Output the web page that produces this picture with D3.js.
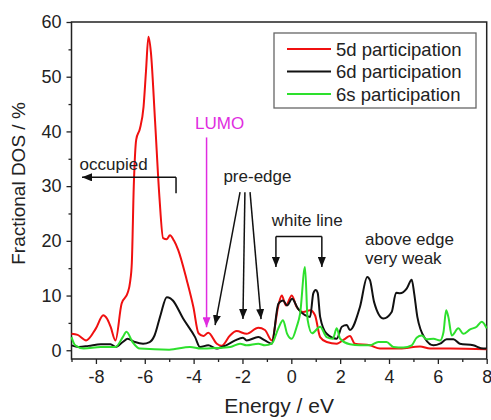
<!DOCTYPE html>
<html>
<head>
<meta charset="utf-8">
<script src="https://cdnjs.cloudflare.com/ajax/libs/d3/7.8.5/d3.min.js"></script>
<style>
  body { margin: 0; background: #fff; }
  svg { display: block; font-family: "Liberation Sans", Arial, sans-serif; }
</style>
</head>
<body>
<script>
// 5d participation (red)
const energy5d = [-9, -8.75, -8.4, -8.0, -7.7, -7.55, -7.4, -7.2, -6.95, -6.7, -6.6, -6.53, -6.45, -6.35, -6.2, -6.05, -5.95, -5.85, -5.75, -5.58, -5.4, -5.25, -5.1, -4.97, -4.8, -4.63, -4.28, -4.01, -3.8, -3.6, -3.4, -3.05, -2.85, -2.51, -2.24, -1.83, -1.35, -1.08, -0.8, -0.53, -0.39, -0.22, 0.02, 0.22, 0.49, 0.77, 0.97, 1.18, 1.45, 1.86, 2.2, 2.4, 2.6, 3.22, 3.63, 4.45, 5.27, 5.68, 6.5, 8];
const dos5d = [3.0, 2.8, 1.8, 4.0, 6.4, 5.8, 4.3, 1.8, 8.5, 10.5, 12.5, 16, 30, 38.5, 40.5, 44.5, 51, 57.3, 54.5, 42, 28, 20.5, 20.3, 21, 20, 18.3, 12.8, 7.9, 3.1, 2.6, 3.2, 1.2, 0.8, 2.7, 3.5, 3.0, 4.1, 3.7, 1.8, 8.2, 10, 8.2, 10, 7.9, 7.0, 7.3, 6.4, 2.4, 1.5, 1.2, 2.1, 2.6, 1.2, 0.9, 0.3, 0.3, 0.7, 0.3, 0.3, 0.2];

// 6d participation (black)
const energy6d = [-9, -8.7, -8.3, -7.8, -7.4, -7.2, -6.9, -6.7, -6.4, -6.07, -5.8, -5.6, -5.35, -5.1, -4.95, -4.85, -4.43, -3.94, -3.74, -3.4, -3.08, -2.67, -2.3, -1.98, -1.83, -1.35, -1.08, -0.8, -0.53, -0.34, -0.17, 0.03, 0.27, 0.56, 0.77, 0.9, 1.0, 1.08, 1.18, 1.45, 1.86, 2.07, 2.27, 2.4, 2.81, 3.11, 3.22, 3.39, 3.77, 4.11, 4.29, 4.45, 4.73, 4.93, 5.03, 5.16, 5.48, 5.82, 6.09, 6.36, 6.64, 6.9, 7.45, 7.86, 8];
const dos6d = [0.9, 0.6, 0.8, 1.1, 1.1, 0.6, 1.5, 2.1, 1.5, 1.2, 1.5, 2.7, 6.5, 9.7, 9.5, 9.1, 5.8, 2.4, 0.6, 0.9, 0.3, 0.9, 1.8, 2.3, 1.8, 2.4, 1.8, 1.2, 8.5, 9.1, 8.2, 9.4, 7.6, 6.4, 6.1, 10.4, 11.0, 10.5, 6.1, 3.0, 2.1, 4.3, 4.6, 3.7, 7.9, 13.4, 12.8, 8.8, 5.8, 7.0, 10.5, 10.4, 11.3, 12.9, 10.4, 6.1, 2.1, 0.9, 1.2, 2.0, 2.0, 1.2, 0.9, 0.3, 0.3];

// 6s participation (green)
const energy6s = [-9, -8.85, -8.5, -7.8, -7.2, -6.9, -6.75, -6.5, -6.2, -5, -4.15, -3.7, -3.1, -2.5, -2.1, -1.83, -1.35, -1.08, -0.8, -0.53, -0.34, -0.17, 0.02, 0.22, 0.36, 0.56, 0.67, 0.85, 1.18, 1.45, 1.7, 1.86, 2.0, 2.4, 2.81, 3.22, 3.56, 3.9, 4.18, 4.59, 4.93, 5.13, 5.34, 5.54, 5.82, 6.09, 6.23, 6.34, 6.43, 6.57, 6.84, 7.04, 7.32, 7.59, 7.8, 8];
const dos6s = [2.4, 0.9, 0.3, 0.6, 0.6, 2.4, 3.4, 1.5, 0.3, 0.1, 0.6, 0.3, 0.4, 0.6, 1.2, 0.9, 1.2, 0.9, 1.2, 4.0, 5.5, 3.0, 2.1, 4.3, 6.7, 15.2, 5.5, 3.1, 4.3, 2.4, 2.1, 4.0, 2.1, 1.1, 0.9, 0.9, 1.5, 1.5, 0.6, 0.5, 0.9, 2.3, 2.7, 2.0, 2.1, 1.8, 3.3, 7.3, 6.1, 2.7, 4.0, 3.0, 3.8, 4.3, 5.2, 4.0];

const seriesNames = ["5d participation", "6d participation", "6s participation"];
const xMajorTicks = [-8, -6, -4, -2, 0, 2, 4, 6, 8];
const xMinorTicks = [-9, -7, -5, -3, -1, 1, 3, 5, 7];
const yMajorTicks = [0, 10, 20, 30, 40, 50, 60];
const yMinorTicks = [5, 15, 25, 35, 45, 55];

const W = 491, H = 420;
const margin = { top: 22, right: 4.3, bottom: 61, left: 71.5 };

const svg = d3.select("body").append("svg")
    .attr("width", W)
    .attr("height", H);

const x = d3.scaleLinear().domain([-9, 8]).range([margin.left, W - margin.right]);
const y = d3.scaleLinear().domain([-1.6, 60]).range([H - margin.bottom, margin.top]);

// arrow heads
const defs = svg.append("defs");
[["arrowBlack", "#111"], ["arrowMagenta", "#e02ce0"]].forEach(([id, c]) => {
    defs.append("marker")
        .attr("id", id)
        .attr("viewBox", "0 0 10 8")
        .attr("refX", 10).attr("refY", 4)
        .attr("markerWidth", 10).attr("markerHeight", 8)
        .attr("markerUnits", "userSpaceOnUse")
        .attr("orient", "auto")
        .append("path")
        .attr("d", "M0,0L10,4L0,8Z")
        .attr("fill", c);
});

// axes
const fontSize = 18;
const xAxis = svg.append("g")
    .attr("transform", `translate(0,${y.range()[0]})`)
    .call(d3.axisBottom(x).tickValues(xMajorTicks).tickSize(5).tickSizeOuter(0).tickPadding(6));
svg.append("g")
    .attr("transform", `translate(0,${y.range()[0]})`)
    .call(d3.axisBottom(x).tickValues(xMinorTicks).tickSize(3).tickFormat(""))
    .select(".domain").remove();
const yAxis = svg.append("g")
    .attr("transform", `translate(${x.range()[0]},0)`)
    .call(d3.axisLeft(y).tickValues(yMajorTicks).tickSize(5).tickSizeOuter(0).tickPadding(5));
svg.append("g")
    .attr("transform", `translate(${x.range()[0]},0)`)
    .call(d3.axisLeft(y).tickValues(yMinorTicks).tickSize(3).tickFormat(""))
    .select(".domain").remove();

svg.selectAll(".domain").remove();
svg.selectAll(".tick line").attr("stroke", "#222").attr("stroke-width", 1.3);
svg.selectAll(".tick text")
    .attr("font-family", "Liberation Sans, Arial, sans-serif")
    .attr("font-size", fontSize)
    .attr("fill", "#222")
    .text(function () { return this.textContent.replace("−", "-"); });

// frame
svg.append("rect")
    .attr("x", x.range()[0]).attr("y", y.range()[1])
    .attr("width", x.range()[1] - x.range()[0])
    .attr("height", y.range()[0] - y.range()[1])
    .attr("fill", "none")
    .attr("stroke", "#222")
    .attr("stroke-width", 1.5);

// axis titles
svg.append("text")
    .attr("x", (x.range()[0] + x.range()[1]) / 2 - 0)
    .attr("y", 413)
    .attr("text-anchor", "middle")
    .attr("font-size", 21)
    .attr("fill", "#222")
    .text("Energy / eV");
svg.append("text")
    .attr("transform", `translate(25,${183.5}) rotate(-90)`)
    .attr("text-anchor", "middle")
    .attr("font-size", 19)
    .attr("fill", "#222")
    .text("Fractional DOS / %");

// curves
const line = d3.line()
    .x(d => x(d[0]))
    .y(d => y(d[1]))
    .curve(d3.curveMonotoneX);

const series = [
    { name: seriesNames[0], e: energy5d, v: dos5d, color: "#f01010" },
    { name: seriesNames[1], e: energy6d, v: dos6d, color: "#111111" },
    { name: seriesNames[2], e: energy6s, v: dos6s, color: "#2de02d" }
];

series.forEach(s => {
    svg.append("path")
        .datum(d3.zip(s.e, s.v))
        .attr("d", line)
        .attr("fill", "none")
        .attr("stroke", s.color)
        .attr("stroke-width", 2)
        .attr("stroke-linejoin", "round");
});

// annotations (data coordinates)
const annoSize = 17;
const arrow = (x1, y1, x2, y2, marker, color) => svg.append("line")
    .attr("x1", x(x1)).attr("y1", y(y1))
    .attr("x2", x(x2)).attr("y2", y(y2))
    .attr("stroke", color || "#111")
    .attr("stroke-width", 1.5)
    .attr("marker-end", marker ? `url(#${marker})` : null);
const label = (tx, ty, txt, color) => svg.append("text")
    .attr("x", x(tx)).attr("y", y(ty))
    .attr("font-size", annoSize)
    .attr("fill", color || "#222")
    .text(txt);

// LUMO
label(-3.94, 40.5, "LUMO", "#e02ce0");
arrow(-3.47, 38.9, -3.47, 4.2, "arrowMagenta", "#e02ce0");

// occupied
label(-8.67, 33, "occupied");
arrow(-4.72, 28.7, -4.72, 31.6);
arrow(-4.72, 31.6, -8.57, 31.6, "arrowBlack");

// pre-edge
label(-2.78, 30.8, "pre-edge");
arrow(-2.1, 28.9, -3.12, 4.6, "arrowBlack");
arrow(-1.9, 28.9, -1.98, 5.7, "arrowBlack");
arrow(-1.69, 28.9, -1.24, 5.7, "arrowBlack");

// white line
label(-0.8, 22.7, "white line");
arrow(-0.63, 20.8, 1.25, 20.8);
arrow(-0.63, 20.8, -0.63, 15.2, "arrowBlack");
arrow(1.25, 20.8, 1.25, 15.2, "arrowBlack");

// above edge
label(3.02, 19.2, "above edge");
label(3.02, 15.7, "very weak");

// legend
const legend = svg.append("g");
legend.append("rect")
    .attr("x", 274).attr("y", 33)
    .attr("width", 202).attr("height", 75)
    .attr("fill", "#fff")
    .attr("stroke", "#666")
    .attr("stroke-width", 1.3);
series.forEach((s, i) => {
    const cy = 49 + i * 22.5;
    legend.append("line")
        .attr("x1", 287).attr("x2", 331)
        .attr("y1", cy).attr("y2", cy)
        .attr("stroke", s.color)
        .attr("stroke-width", 2);
    legend.append("text")
        .attr("x", 336).attr("y", cy + 6.5)
        .attr("font-size", 18.5)
        .attr("fill", "#222")
        .text(s.name);
});
</script>
</body>
</html>
